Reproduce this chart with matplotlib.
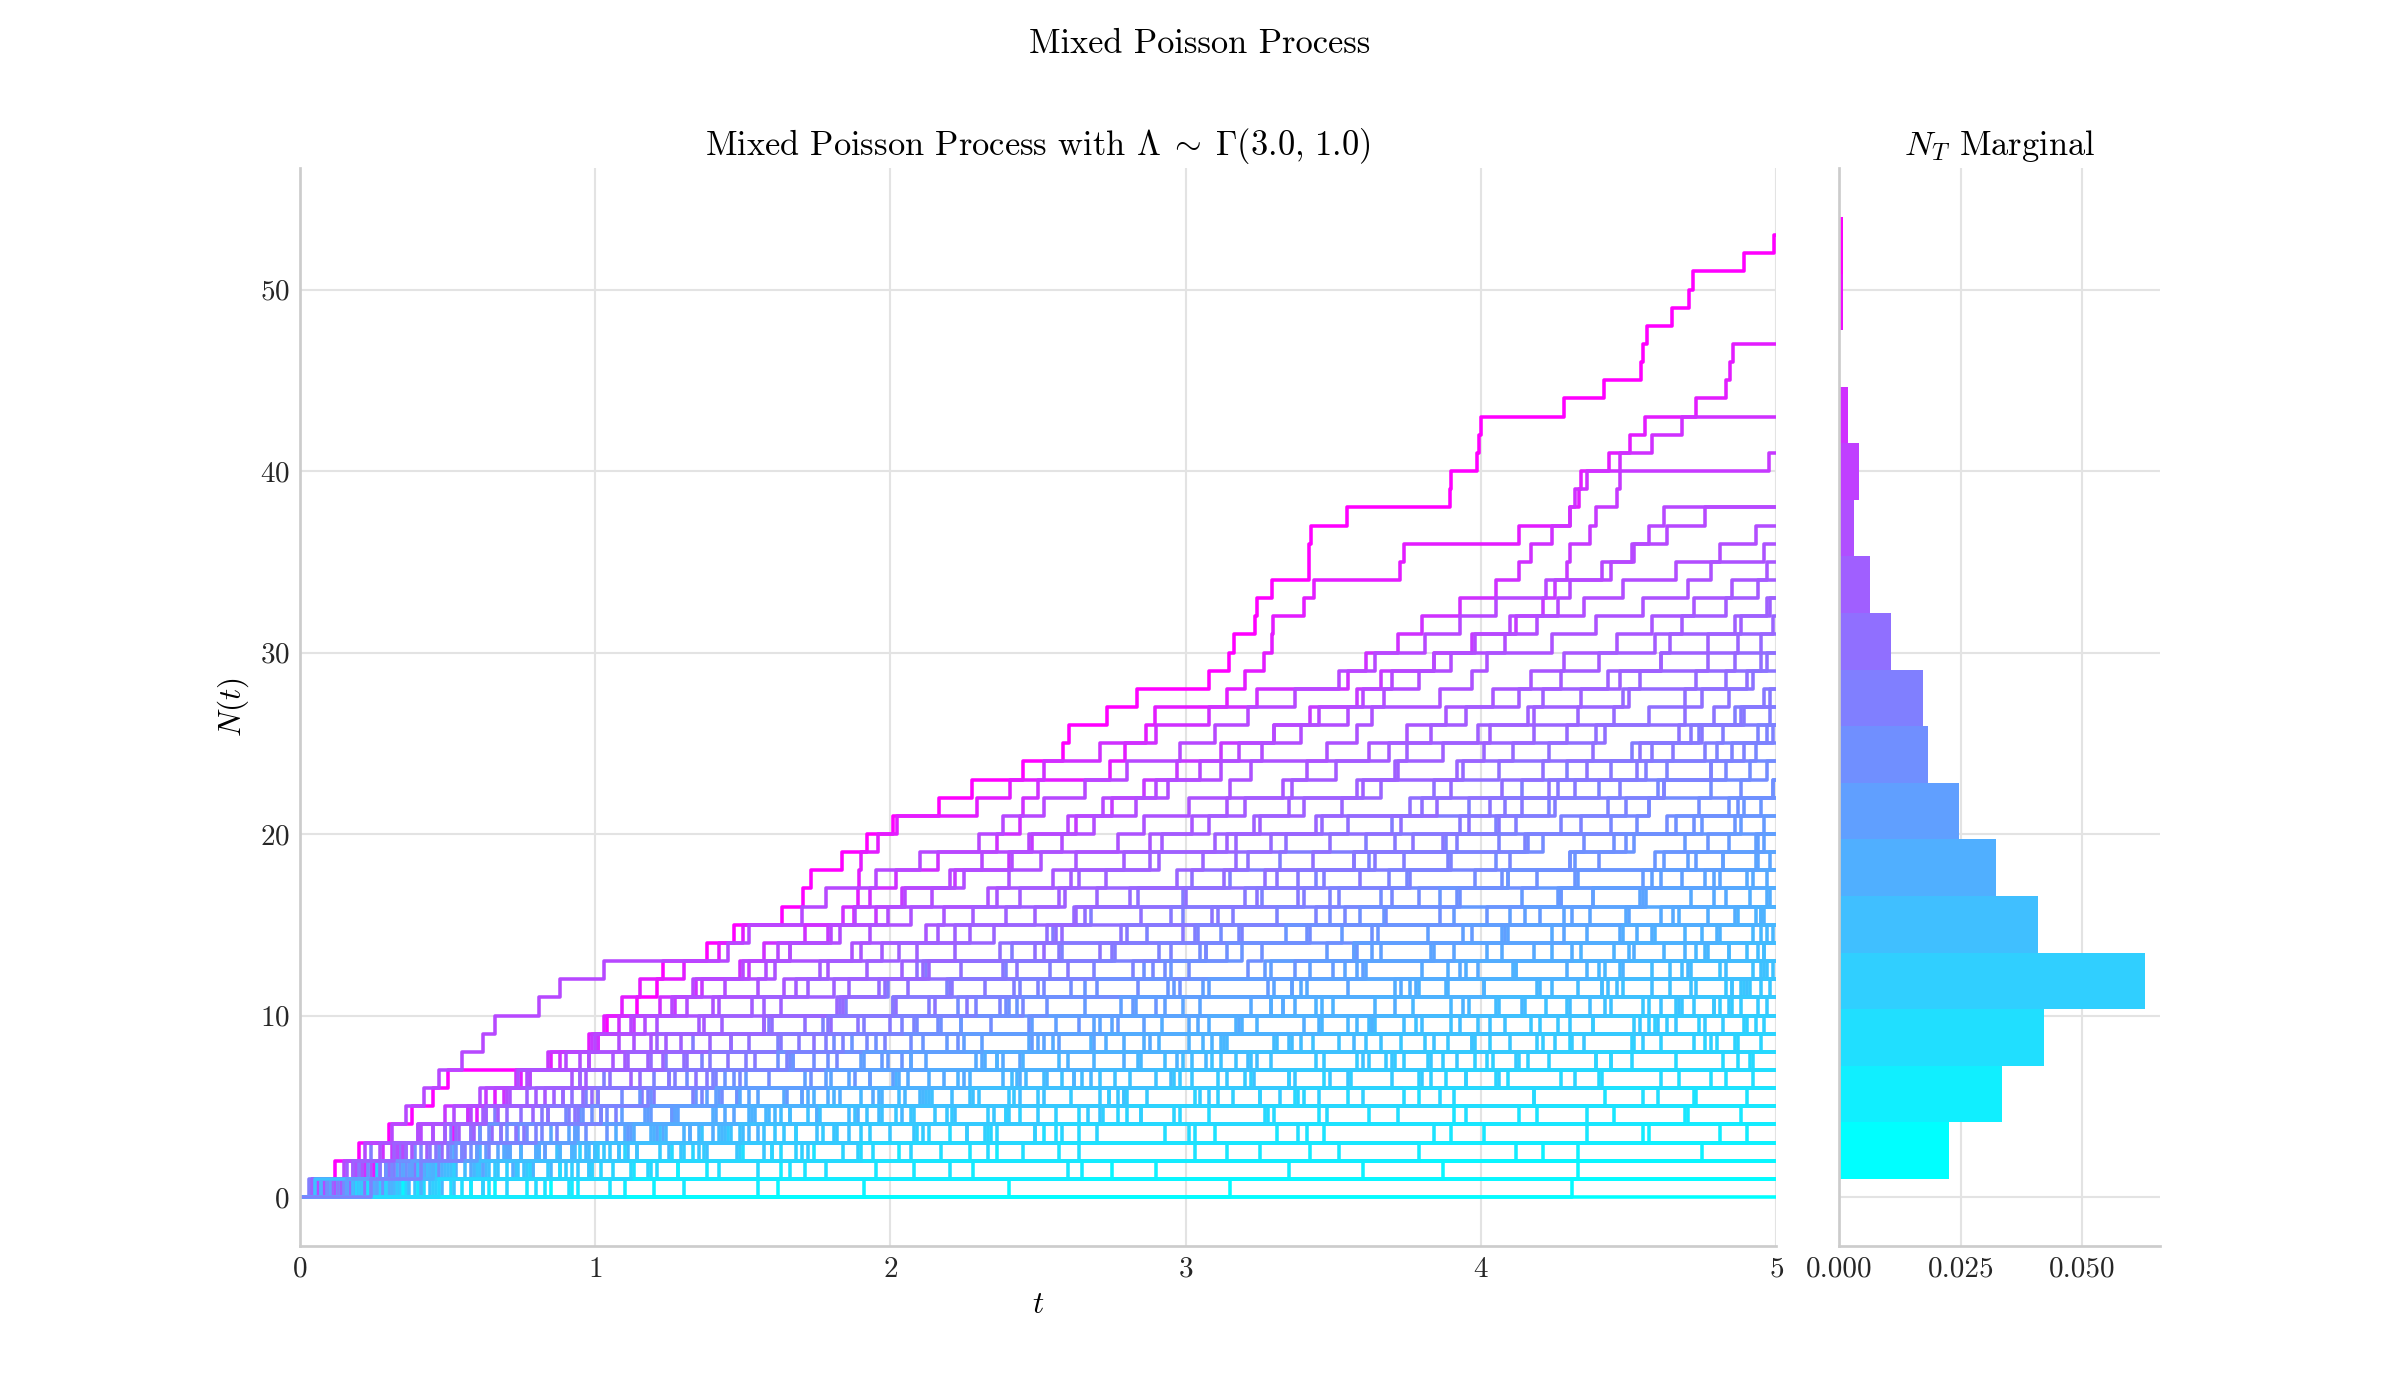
import numpy as np
import matplotlib.pyplot as plt

plt.rcParams.update({
    "font.family": "serif",
    "font.serif": ["cmr10"],
    "mathtext.fontset": "cm",
    "axes.formatter.use_mathtext": True,
    "axes.unicode_minus": False,
})

T = 5.0

# jump times of the sample paths, N(t) = number of jumps <= t
jump_times = [
    [0.21, 0.34, 0.39, 0.77, 1.02, 1.09, 1.31, 1.74, 1.81, 2.16, 2.23, 2.61, 2.93, 3.07, 3.12,
     3.49, 3.66, 3.98, 4.05, 4.21, 4.53, 4.57, 4.78, 4.91],
    [0.11, 0.58, 0.69, 1.23, 1.27, 1.64, 2.18, 2.29, 2.55, 3.01, 3.33, 3.41, 3.80, 4.02, 4.36, 4.49, 4.71, 4.90],
    [0.08, 0.27, 0.63, 0.74, 0.95, 1.42, 1.51, 1.97, 2.19, 2.24, 2.66, 2.96, 3.27, 3.48, 3.53,
     3.91, 4.14, 4.33, 4.62, 4.69, 4.88],
    [0.32, 0.44, 0.97, 1.43, 1.61, 2.05, 2.53, 2.57, 3.14, 3.58, 3.96, 4.24, 4.40, 4.77, 4.92],
    [0.17, 0.73, 1.29, 1.36, 2.08, 2.71, 2.98, 3.44, 3.81, 4.26, 4.68, 4.85],
    [0.03, 0.19, 0.24, 0.51, 0.66, 0.89, 1.03, 1.24, 1.33, 1.59, 1.85, 1.99, 2.12, 2.41, 2.55,
     2.68, 2.99, 3.15, 3.32, 3.61, 3.70, 3.96, 4.14, 4.29, 4.51, 4.74, 4.86],
    [0.41, 0.92, 1.49, 2.26, 2.44, 3.11, 3.56, 4.04, 4.51, 4.74],
    [0.27, 0.38, 0.81, 1.19, 1.54, 1.70, 2.23, 2.60, 2.68, 3.19, 3.50, 3.88, 4.11, 4.45, 4.59, 4.95],
    [0.05, 0.52, 0.87, 1.46, 1.88, 2.14, 2.76, 3.09, 3.52, 3.78, 4.22, 4.48, 4.81],
    [0.14, 0.37, 0.55, 0.94, 1.17, 1.38, 1.71, 1.90, 2.31, 2.48, 2.83, 3.06, 3.29, 3.63, 3.82,
     4.10, 4.27, 4.58, 4.70, 4.93],
    [0.36, 1.21, 1.94, 2.49, 3.27, 3.91, 4.40, 4.87],
    [0.22, 0.49, 1.11, 1.32, 1.86, 2.44, 2.62, 3.21, 3.39, 3.93, 4.15, 4.46, 4.71, 4.96],
    [0.19, 0.79, 1.30, 1.93, 2.21, 2.87, 3.35, 3.71, 4.25, 4.63, 4.79],
    [0.09, 0.33, 0.71, 1.07, 1.26, 1.72, 2.03, 2.36, 2.79, 2.92, 3.37, 3.71, 3.89, 4.24, 4.53, 4.67, 4.91],
    [0.62, 1.18, 1.84, 2.36, 2.98, 3.25, 3.95, 4.44, 4.76],
    [0.06, 0.22, 0.41, 0.58, 0.84, 0.97, 1.20, 1.36, 1.62, 1.77, 2.01, 2.19, 2.39, 2.58, 2.87,
     2.99, 3.26, 3.44, 3.62, 3.88, 4.05, 4.23, 4.40, 4.63, 4.80, 4.97],
    [0.28, 0.61, 1.35, 1.81, 2.02, 2.74, 3.02, 3.68, 3.97, 4.30, 4.66, 4.89],
    [0.15, 0.56, 0.88, 1.42, 1.63, 2.21, 2.52, 2.99, 3.31, 3.62, 4.06, 4.33, 4.58, 4.84],
    [0.51, 1.28, 2.17, 2.93, 3.62, 4.18, 4.83],
    [0.12, 0.26, 0.67, 0.85, 1.28, 1.48, 1.93, 2.12, 2.52, 2.71, 2.99, 3.36, 3.54, 3.91, 4.07,
     4.37, 4.55, 4.76, 4.98],
    [0.34, 0.90, 1.14, 1.77, 2.39, 2.61, 3.20, 3.74, 4.03, 4.57, 4.81],
    [0.07, 0.26, 0.34, 0.58, 0.75, 0.92, 1.05, 1.31, 1.46, 1.60, 1.83, 1.98, 2.09, 2.37, 2.53,
     2.66, 2.84, 3.02, 3.21, 3.34, 3.55, 3.76, 3.84, 4.06, 4.23, 4.39, 4.57, 4.69, 4.83, 4.95],
    [0.58, 0.66, 1.72, 2.26, 2.33, 3.32, 3.80, 3.87, 4.55, 4.82, 4.97],
    [0.05, 0.12, 0.20, 0.30, 0.38, 0.45, 0.50, 0.98, 1.01, 1.04, 1.14, 1.21, 1.23, 1.38, 1.47,
     1.632, 1.705, 1.73, 1.835, 1.92, 2.01, 2.163, 2.276, 2.45, 2.584, 2.603, 2.733, 2.835,
     3.079, 3.145, 3.163, 3.233, 3.241, 3.292, 3.416, 3.419, 3.424, 3.545, 3.894, 3.897,
     3.988, 3.995, 4.0, 4.281, 4.418, 4.543, 4.548, 4.561, 4.646, 4.706, 4.717, 4.891, 4.992],
    [0.27, 0.88, 0.95, 2.13, 2.72, 2.79, 3.79, 4.23, 4.30, 4.89],
    [0.12, 0.53, 0.61, 0.93, 1.66, 1.74, 2.02, 2.36, 3.09, 3.17, 3.44, 3.79, 4.12, 4.62, 4.81, 4.95],
    [1.91, 3.60, 4.75],
    [0.05, 0.24, 0.38, 0.49, 0.57, 0.83, 0.92, 1.06, 1.19, 1.37, 1.42, 1.64, 1.79, 1.90, 2.12,
     2.18, 2.36, 2.55, 2.63, 2.88, 3.02, 3.14, 3.33, 3.41, 3.62, 3.75, 3.88, 4.04, 4.17, 4.28,
     4.46, 4.58, 4.72, 4.85, 4.97],
    [0.36, 1.02, 1.10, 2.34, 2.96, 3.03, 4.05, 4.51, 4.87],
    [0.10, 0.25, 0.33, 0.52, 0.60, 0.66, 0.75, 0.85, 0.98, 1.03, 1.09, 1.15, 1.30, 1.42, 1.50,
     1.878, 1.89, 1.895, 1.90, 1.959, 2.021, 2.292, 2.405, 2.744, 2.795, 2.865, 2.897, 3.139,
     3.202, 3.264, 3.292, 3.296, 3.40, 3.433, 3.727, 3.738, 4.128, 4.30, 4.331, 4.339, 4.433,
     4.506, 4.555, 4.729, 4.83, 4.842, 4.854],
    [0.80, 0.88, 2.33, 3.01, 3.08, 4.18, 4.61, 4.91],
    [0.21, 0.74, 0.81, 1.82, 2.35, 2.42, 3.37, 3.83, 3.89, 4.54, 4.79, 4.95],
    [],
    [0.28, 0.36, 0.75, 0.97, 1.02, 1.48, 1.73, 1.79, 2.23, 2.47, 2.53, 2.98, 3.21, 3.26, 3.63,
     3.86, 3.92, 4.19, 4.40, 4.45, 4.72, 4.87, 4.99],
    [0.64, 1.66, 1.74, 3.47, 4.19, 4.73],
    [0.14, 0.22, 0.28, 0.45, 0.57, 0.69, 0.73, 0.88, 1.01, 1.08, 1.22, 1.34, 1.49, 1.57, 1.71,
     1.84, 1.93, 2.02, 2.16, 2.36, 2.44, 2.45, 2.50, 2.52, 2.71, 2.90, 3.08, 3.24, 3.55, 3.61,
     3.72, 3.80, 3.93, 4.05, 4.13, 4.17, 4.24, 4.30, 4.32, 4.36, 4.47, 4.58, 4.68],
    [0.44, 0.51, 1.38, 1.86, 1.92, 2.79, 3.23, 3.29, 3.66, 4.38, 4.67, 4.73, 4.99],
    [0.92, 2.28, 2.36, 4.57],
    [0.11, 0.16, 0.43, 0.59, 0.62, 0.86, 1.12, 1.18, 1.29, 1.57, 1.63, 1.81, 2.04, 2.09, 2.27,
     2.49, 2.57, 2.64, 2.91, 3.14, 3.23, 3.35, 3.60, 3.71, 3.75, 3.99, 4.16, 4.21, 4.43, 4.61,
     4.64, 4.88, 4.98],
    [0.45, 0.52, 1.70, 2.32, 2.39, 3.45, 3.95, 4.02, 4.72, 4.93],
    [0.24, 0.35, 1.08, 1.52, 1.58, 1.90, 2.68, 3.07, 3.12, 3.46, 4.14, 4.41, 4.47, 4.84, 4.97],
    [3.15],
    [0.09, 0.18, 0.31, 0.40, 0.49, 0.63, 0.78, 0.84, 0.99, 1.13, 1.27, 1.36, 1.52, 1.66, 1.79,
     1.95, 2.04, 2.22, 2.40, 2.48, 2.63, 2.75, 2.86, 2.97, 3.12, 3.30, 3.42, 3.58, 3.66, 3.84,
     3.97, 4.12, 4.21, 4.25, 4.29, 4.30, 4.37, 4.39, 4.46, 4.47, 4.975],
    [0.55, 1.42, 1.50, 3.03, 3.72, 3.79, 4.78],
    [0.35, 0.46, 1.00, 1.32, 1.41, 1.94, 2.25, 2.31, 2.88, 3.18, 3.22, 3.73, 3.99, 4.07, 4.47,
     4.65, 4.83, 4.97],
    [0.12, 0.77, 1.37, 1.45, 2.40, 3.05, 3.11, 3.58, 4.31, 4.38, 4.85],
    [0.17, 0.21, 0.48, 0.65, 0.70, 0.99, 1.15, 1.19, 1.46, 1.80, 1.84, 1.96, 2.11, 2.52, 2.58,
     2.62, 2.81, 3.13, 3.17, 3.29, 3.46, 3.85, 3.90, 3.94, 4.11, 4.29, 4.45, 4.48, 4.73, 4.86, 4.95],
    [1.30, 1.38, 3.52, 4.36, 4.88],
    [0.29, 0.76, 0.83, 1.75, 2.22, 2.28, 2.71, 3.60, 3.97, 4.03, 4.61, 4.85, 4.97],
    [0.06, 0.15, 0.22, 0.31, 0.36, 0.42, 0.47, 0.55, 0.62, 0.66, 0.81, 0.88, 1.03, 1.45, 1.52,
     1.70, 1.78, 1.95, 2.10, 2.30, 2.38, 2.52, 2.66, 2.80, 2.98, 3.10, 3.21, 3.37, 3.52, 3.64,
     3.81, 3.93, 4.05, 4.22, 4.41, 4.52, 4.63, 4.76],
    [0.19, 0.26, 1.33, 2.58, 2.64, 3.40, 3.47, 4.44, 4.80],
    [0.10, 0.43, 0.51, 1.04, 1.26, 1.34, 1.88, 2.04, 2.11, 2.64, 2.90, 2.94, 3.37, 3.58, 3.65,
     4.02, 4.27, 4.32, 4.59, 4.77, 4.86, 4.95],
    [1.62, 3.87],
    [0.37, 0.43, 1.25, 1.68, 1.75, 2.12, 2.95, 3.02, 3.35, 3.74, 4.37, 4.43, 4.83, 4.96],
    [0.04, 0.30, 0.35, 0.61, 0.84, 0.96, 1.25, 1.30, 1.52, 1.71, 2.02, 2.06, 2.24, 2.49, 2.56,
     2.85, 3.00, 3.27, 3.43, 3.49, 3.73, 3.80, 4.07, 4.21, 4.38, 4.42, 4.69, 4.75, 4.90, 4.97],
    [0.77, 1.95, 2.03, 4.01, 4.69],
    [0.08, 0.60, 1.14, 1.22, 1.97, 2.52, 2.58, 3.12, 3.84, 3.90, 4.44, 4.90, 4.96],
    [0.10, 0.20, 0.35, 0.41, 0.58, 0.70, 0.78, 0.90, 1.00, 1.12, 1.26, 1.33, 1.50, 1.62, 1.80,
     1.88, 2.05, 2.20, 2.31, 2.47, 2.60, 2.72, 2.90, 3.05, 3.18, 3.30, 3.45, 3.60, 3.70, 3.84,
     3.98, 4.10, 4.26, 4.30, 4.44, 4.51, 4.57, 4.62],
    [0.91, 0.99, 2.64, 3.38, 3.45, 4.55, 4.92],
    [0.20, 0.29, 0.80, 1.12, 1.18, 1.70, 2.01, 2.07, 2.57, 2.86, 2.93, 3.36, 3.60, 3.66, 4.08,
     4.31, 4.38, 4.68, 4.82, 4.94],
    [0.58, 3.35, 3.42, 4.90],
    [0.39, 0.46, 1.48, 2.00, 2.07, 2.50, 3.49, 3.92, 3.98, 4.60, 4.84, 4.91],
    [0.22, 0.27, 0.44, 0.73, 0.93, 1.01, 1.34, 1.45, 1.74, 1.89, 2.15, 2.21, 2.43, 2.71, 2.78,
     3.09, 3.24, 3.31, 3.57, 3.77, 3.96, 4.03, 4.23, 4.36, 4.54, 4.67, 4.79, 4.84, 4.92],
    [0.85],
    [0.07, 0.98, 1.60, 1.68, 2.85, 3.16, 3.22, 3.98, 4.52, 4.59],
    [0.14, 0.45, 0.52, 1.10, 1.44, 1.49, 2.06, 2.38, 2.47, 3.04, 3.33, 3.39, 3.93, 4.18, 4.24,
     4.61, 4.79, 4.92],
    [0.31, 2.20, 2.27, 3.10, 4.36, 4.42],
    [0.08, 0.19, 0.33, 0.40, 0.52, 0.61, 0.77, 0.95, 1.08, 1.17, 1.31, 1.44, 1.58, 1.66, 1.83,
     1.99, 2.14, 2.25, 2.41, 2.58, 2.69, 2.83, 2.94, 3.12, 3.26, 3.39, 3.55, 3.67, 3.79, 3.90,
     4.08, 4.19, 4.35, 4.48, 4.66, 4.81, 4.93],
    [0.48, 0.85, 0.92, 1.24, 2.04, 2.10, 2.43, 2.85, 3.57, 3.63, 3.90, 4.20, 4.70, 4.76, 4.99],
    [1.20, 1.28, 4.21],
    [0.33, 0.40, 0.83, 1.11, 1.19, 1.65, 1.93, 1.99, 2.48, 2.77, 2.82, 3.28, 3.50, 3.57, 3.97,
     4.20, 4.26, 4.55, 4.73, 4.84, 4.96],
    [0.42, 1.19, 1.26, 2.64, 3.30, 3.37, 4.41, 4.82],
    [0.13, 0.39, 0.50, 0.76, 0.94, 1.16, 1.38, 1.54, 1.69, 2.00, 2.26, 2.32, 2.60, 2.75, 2.99,
     3.11, 3.38, 3.59, 3.64, 3.87, 4.06, 4.14, 4.32, 4.53, 4.65, 4.71, 4.89, 4.96],
    [0.18, 0.63, 0.70, 1.50, 1.96, 2.03, 2.41, 3.24, 3.30, 3.64, 4.30, 4.58, 4.64, 4.94],
    [1.55, 1.63, 4.12, 4.81],
    [0.16, 0.98, 1.05, 1.61, 2.71, 2.77, 3.14, 3.70, 4.10, 4.17, 4.57, 4.88],
    [0.12, 0.21, 0.27, 0.45, 0.63, 0.71, 0.74, 0.98, 1.13, 1.21, 1.40, 1.55, 1.61, 1.87, 1.93,
     2.07, 2.33, 2.40, 2.51, 2.77, 2.86, 3.01, 3.15, 3.22, 3.48, 3.58, 3.63, 3.86, 3.97, 4.02,
     4.24, 4.39, 4.55, 4.70, 4.78, 4.96],
    [0.62, 0.70, 1.89, 2.49, 2.56, 3.60, 4.06, 4.13, 4.78, 4.96],
    [0.26, 0.62, 0.71, 1.21, 1.47, 1.52, 1.80, 2.44, 2.69, 2.75, 3.29, 3.55, 3.61, 3.84, 4.28,
     4.50, 4.56, 4.81, 4.93],
    [0.40, 2.60, 3.25, 3.31, 4.45],
    [0.07, 0.32, 0.56, 0.68, 0.91, 1.20, 1.27, 1.51, 1.78, 1.91, 2.13, 2.42, 2.54, 2.76, 3.03,
     3.16, 3.40, 3.47, 3.74, 3.92, 4.12, 4.25, 4.47, 4.56, 4.76, 4.82, 4.98],
    [0.33, 0.94, 1.01, 2.11, 2.67, 2.74, 3.70, 4.12, 4.19, 4.76, 4.94],
    [2.40, 4.33],
    [0.30, 0.72, 0.80, 1.40, 1.75, 1.83, 2.44, 2.79, 2.86, 3.40, 3.71, 3.78, 4.29, 4.52, 4.58,
     4.86, 4.98],
    [0.13, 1.55, 1.63, 2.20, 3.48, 3.55, 4.09, 4.66],
    [0.14, 0.29, 0.36, 0.54, 0.67, 0.80, 0.97, 1.10, 1.24, 1.35, 1.53, 1.68, 1.76, 1.97, 2.16,
     2.28, 2.44, 2.61, 2.79, 2.92, 3.08, 3.20, 3.36, 3.51, 3.69, 3.83, 3.95, 4.13, 4.27, 4.40,
     4.59, 4.68, 4.83, 4.94],
    [0.52, 0.60, 1.57, 2.08, 2.15, 3.08, 3.55, 3.62, 4.35, 4.66, 4.72, 4.98],
    [0.66, 2.90, 4.33],
    [0.15, 0.47, 0.58, 0.64, 1.04, 1.43, 1.59, 1.66, 2.07, 2.34, 2.39, 2.84, 3.01, 3.05, 3.42,
     3.68, 3.79, 4.09, 4.30, 4.35, 4.63, 4.74, 4.88, 4.97],
    [1.05, 1.13, 3.03, 3.84, 3.91, 4.90],
    [0.41, 0.79, 0.88, 1.55, 1.89, 1.97, 2.62, 2.97, 3.06, 3.63, 3.94, 4.01, 4.48, 4.69, 4.75, 4.96],
    [4.31],
    [0.09, 0.31, 0.36, 0.53, 0.79, 0.89, 0.95, 1.23, 1.39, 1.57, 1.82, 1.86, 2.13, 2.22, 2.35,
     2.63, 2.70, 2.97, 3.06, 3.17, 3.44, 3.53, 3.66, 3.92, 4.01, 4.18, 4.33, 4.50, 4.54, 4.77,
     4.87, 4.99],
    [0.70, 0.78, 2.07, 2.70, 2.77, 3.86, 4.32, 4.39, 4.95],
    [0.23, 1.78, 2.45, 2.52, 3.95, 4.60, 4.67],
    [0.18, 0.42, 0.60, 0.87, 1.07, 1.33, 1.41, 1.67, 1.98, 2.08, 2.37, 2.50, 2.82, 2.95, 3.19,
     3.44, 3.52, 3.76, 3.89, 4.15, 4.34, 4.49, 4.62, 4.78, 4.85, 4.94],
    [0.35, 2.75],
    [0.25, 0.31, 0.64, 0.82, 0.90, 1.36, 1.49, 1.82, 1.92, 2.09, 2.45, 2.52, 2.89, 3.07, 3.18,
     3.54, 3.70, 3.75, 4.10, 4.16, 4.44, 4.57, 4.60, 4.83, 4.93],
    [0.07, 0.48, 0.75, 1.20, 1.53, 1.81, 2.27, 2.45, 2.91, 3.24, 3.46, 3.89, 4.12, 4.34, 4.69, 4.87],
    [0.24, 0.64, 1.08, 1.57, 1.72, 2.30, 2.81, 3.17, 3.43, 3.99, 4.29, 4.64, 4.92],
    [0.04, 0.29, 0.47, 0.61, 0.96, 1.15, 1.44, 1.67, 1.87, 2.24, 2.43, 2.66, 2.95, 3.19, 3.34,
     3.67, 3.86, 4.09, 4.32, 4.52, 4.75, 4.89],
    [0.83, 1.71, 2.57, 3.41, 4.13, 4.72],
    [0.16, 0.59, 0.93, 1.35, 1.59, 2.11, 2.46, 2.84, 3.13, 3.55, 3.77, 4.19, 4.42, 4.73, 4.95],
    [0.46, 0.99, 1.68, 2.09, 2.85, 3.25, 3.83, 4.16, 4.61, 4.90],
    [0.10, 0.35, 0.70, 0.91, 1.27, 1.55, 1.86, 2.07, 2.50, 2.69, 3.05, 3.30, 3.58, 3.83, 4.09,
     4.28, 4.54, 4.79, 4.94],
    [0.13, 0.67, 1.03, 1.64, 2.19, 2.40, 2.96, 3.47, 3.73, 4.20, 4.55, 4.83],
    [0.25, 0.42, 0.81, 1.13, 1.40, 1.79, 2.13, 2.32, 2.73, 3.08, 3.29, 3.76, 3.95, 4.31, 4.48, 4.77, 4.97],
    [0.29, 1.06, 1.60, 2.33, 2.80, 3.38, 3.88, 4.39, 4.86],
    [0.13, 0.20, 0.46, 0.68, 0.82, 1.01, 1.25, 1.39, 1.63, 1.79, 2.01, 2.20, 2.38, 2.57, 2.80,
     2.95, 3.20, 3.38, 3.57, 3.71, 3.93, 4.08, 4.26, 4.44, 4.58, 4.75, 4.88, 4.98],
    [0.18, 0.50, 0.98, 1.44, 1.66, 2.13, 2.65, 2.93, 3.36, 3.80, 4.05, 4.41, 4.68, 4.90],
    [0.09, 0.23, 0.53, 0.70, 0.99, 1.19, 1.47, 1.62, 1.95, 2.17, 2.40, 2.70, 2.86, 3.14, 3.41,
     3.59, 3.93, 4.07, 4.30, 4.49, 4.66, 4.84, 4.99],
    [0.94, 2.08, 3.14, 3.90, 4.70],
    [0.20, 0.84, 1.22, 1.90, 2.50, 2.80, 3.35, 3.82, 4.21, 4.52, 4.88],
    [0.04, 0.18, 0.32, 0.49, 0.63, 0.77, 0.95, 1.11, 1.21, 1.43, 1.57, 1.72, 1.92, 2.03, 2.22,
     2.39, 2.59, 2.73, 2.88, 3.10, 3.25, 3.40, 3.58, 3.72, 3.87, 4.03, 4.18, 4.34, 4.47, 4.61,
     4.77, 4.86, 4.97],
    [0.31, 0.45, 0.92, 1.30, 1.52, 1.96, 2.38, 2.69, 3.01, 3.45, 3.64, 4.01, 4.36, 4.50, 4.80, 4.93],
    [1.10, 2.65, 3.79, 4.55],
    [0.05, 0.40, 1.00, 1.49, 1.76, 2.27, 2.90, 3.22, 3.61, 4.08, 4.42, 4.71, 4.95],
    [0.16, 0.38, 0.60, 0.93, 1.09, 1.41, 1.78, 1.91, 2.25, 2.56, 2.78, 3.08, 3.42, 3.57, 3.94,
     4.15, 4.38, 4.61, 4.82, 4.96],
    [0.47, 1.12, 1.90, 2.56, 3.28, 3.74, 4.27, 4.92],
    [0.24, 0.41, 0.55, 0.80, 1.02, 1.18, 1.40, 1.65, 1.84, 2.04, 2.29, 2.44, 2.69, 2.91, 3.04,
     3.31, 3.49, 3.69, 3.90, 4.06, 4.27, 4.43, 4.62, 4.78, 4.89, 4.99],
]

# marginal of N_T (density per bin, bottom bin first)
nt_lo, nt_hi = 1.0, 54.0
nt_density = [0.0226, 0.0335, 0.0422, 0.0628, 0.0409, 0.0323, 0.0246, 0.0182, 0.0172,
              0.0106, 0.0063, 0.0030, 0.0040, 0.0019, 0.0, 0.0009, 0.0009]

cmap = plt.get_cmap("cool")
grid_c = "#e3e3e3"
spine_c = "#cccccc"

fig = plt.figure(figsize=(16, 1400 / 150), dpi=150)
gs = fig.add_gridspec(1, 2, width_ratios=[4.6, 1], wspace=0.07)
ax = fig.add_subplot(gs[0])
axh = fig.add_subplot(gs[1], sharey=ax)

nmax = max(len(j) for j in jump_times)
for jt in jump_times:
    k = len(jt)
    x = np.concatenate([[0.0], jt, [T]])
    y = np.concatenate([np.arange(k + 1), [k]])
    ax.step(x, y, where="post", color=cmap(k / nmax), lw=1.7)

edges = np.linspace(nt_lo, nt_hi, len(nt_density) + 1)
nb = len(nt_density)
axh.barh(edges[:-1], nt_density, height=np.diff(edges), align="edge",
         color=[cmap(i / (nb - 1)) for i in range(nb)], lw=0)

ax.set_xlim(0, T)
ax.set_title(r"Mixed Poisson Process with $\Lambda \;\sim\; \Gamma(3.0,\, 1.0)$", fontsize=16.5)
ax.set_xlabel(r"$t$", fontsize=15)
ax.set_ylabel(r"$N(t)$", fontsize=15)
axh.set_title(r"$N_T$ Marginal", fontsize=16.5)
axh.set_xticks([0, 0.025, 0.05])
axh.xaxis.set_major_formatter(plt.FormatStrFormatter("%.3f"))
axh.tick_params(labelleft=False)

for a in (ax, axh):
    a.grid(True, color=grid_c, lw=1.0)
    a.set_axisbelow(True)
    for s in ("top", "right"):
        a.spines[s].set_visible(False)
    for s in ("left", "bottom"):
        a.spines[s].set_color(spine_c)
        a.spines[s].set_linewidth(1.3)
    a.tick_params(length=0, labelsize=14, pad=5, colors="#262626")

fig.suptitle("Mixed Poisson Process", fontsize=16.5)
fig.savefig("out.png", dpi=150)
